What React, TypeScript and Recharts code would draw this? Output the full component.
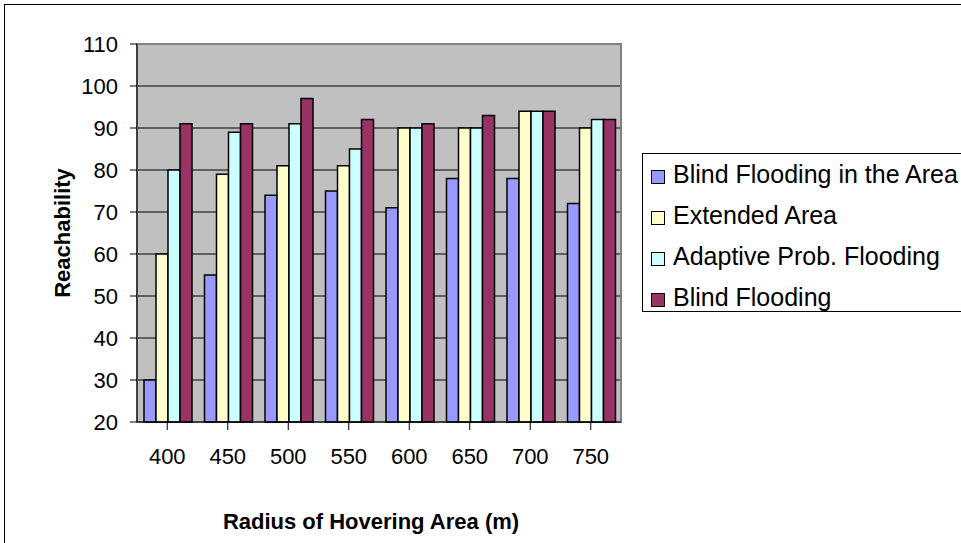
import React from "react";
import { BarChart, Bar, XAxis, YAxis, CartesianGrid, Legend, ReferenceArea } from "recharts";

const radii = ["400", "450", "500", "550", "600", "650", "700", "750"];
const blindArea = [30, 55, 74, 75, 71, 78, 78, 72];
const extendedArea = [60, 79, 81, 81, 90, 90, 94, 90];
const adaptiveProb = [80, 89, 91, 85, 90, 90, 94, 92];
const blindFlooding = [91, 91, 97, 92, 91, 93, 94, 92];
const yTicks = [20, 30, 40, 50, 60, 70, 80, 90, 100, 110];

const series = [
    { key: "blindArea", name: "Blind Flooding in the Area", color: "#9999ff" },
    { key: "extendedArea", name: "Extended Area", color: "#ffffcc" },
    { key: "adaptiveProb", name: "Adaptive Prob. Flooding", color: "#ccffff" },
    { key: "blindFlooding", name: "Blind Flooding", color: "#993366" },
];

const data = radii.map((r, i) => ({
    radius: r,
    blindArea: blindArea[i],
    extendedArea: extendedArea[i],
    adaptiveProb: adaptiveProb[i],
    blindFlooding: blindFlooding[i],
}));

const font = "'Liberation Sans', Arial, sans-serif";

const LegendBox = () => (
    <div
        style={{
            border: "1px solid #000",
            background: "#fff",
            width: 330,
            height: 159,
            boxSizing: "border-box",
            fontFamily: font,
            fontSize: 25,
            paddingTop: 0,
        }}
    >
        {series.map((s) => (
            <div key={s.key} style={{ display: "flex", alignItems: "center", height: 41, paddingLeft: 8 }}>
                <span
                    style={{
                        display: "inline-block",
                        width: 12,
                        height: 12,
                        background: s.color,
                        border: "1.5px solid #000",
                        marginRight: 8,
                        marginTop: 4,
                    }}
                />
                <span style={{ color: "#000" }}>{s.name}</span>
            </div>
        ))}
    </div>
);

const App = () => {
    return (
        <div style={{ position: "absolute", left: 0, top: 0, width: 961, height: 543, overflow: "hidden", background: "#fff" }}>
            <div
                style={{
                    position: "absolute",
                    left: 4,
                    top: 4,
                    width: 1000,
                    height: 600,
                    border: "1.5px solid #000",
                }}
            />
            <div style={{ position: "absolute", left: 0, top: 0 }}>
                <BarChart
                    width={961}
                    height={543}
                    data={data}
                    margin={{ top: 44, right: 340, bottom: 61, left: 37 }}
                    barCategoryGap={7}
                    barGap={0}
                >
                    <CartesianGrid vertical={false} stroke="#000" fill="#c0c0c0" fillOpacity={1} />
                    <XAxis
                        dataKey="radius"
                        height={60}
                        stroke="#000"
                        tickSize={8}
                        tickMargin={18}
                        tick={{ fill: "#000", fontSize: 22, fontFamily: font }}
                        interval={0}
                        label={{
                            value: "Radius of Hovering Area (m)",
                            position: "center",
                            dy: 69,
                            dx: -8,
                            style: { fontFamily: font, fontSize: 22, fontWeight: "bold", fill: "#000" },
                        }}
                    />
                    <YAxis
                        type="number"
                        domain={[20, 110]}
                        ticks={yTicks}
                        width={100}
                        stroke="#000"
                        tickSize={7}
                        tickMargin={12}
                        tick={{ fill: "#000", fontSize: 22, fontFamily: font }}
                        label={{
                            value: "Reachability",
                            angle: -90,
                            position: "center",
                            dx: -25,
                            style: { fontFamily: font, fontSize: 22, fontWeight: "bold", fill: "#000" },
                        }}
                    />
                    {series.map((s) => (
                        <Bar
                            key={s.key}
                            dataKey={s.key}
                            name={s.name}
                            fill={s.color}
                            stroke="#000"
                            strokeWidth={1.5}
                            isAnimationActive={false}
                        />
                    ))}
                    <ReferenceArea y1={20} y2={110} fill="none" stroke="#808080" strokeWidth={2} />
                    <Legend
                        layout="vertical"
                        align="center"
                        verticalAlign="middle"
                        wrapperStyle={{ left: 642, top: 153, width: 330, height: 159 }}
                        content={() => <LegendBox />}
                    />
                </BarChart>
            </div>
        </div>
    );
};

export default App;
